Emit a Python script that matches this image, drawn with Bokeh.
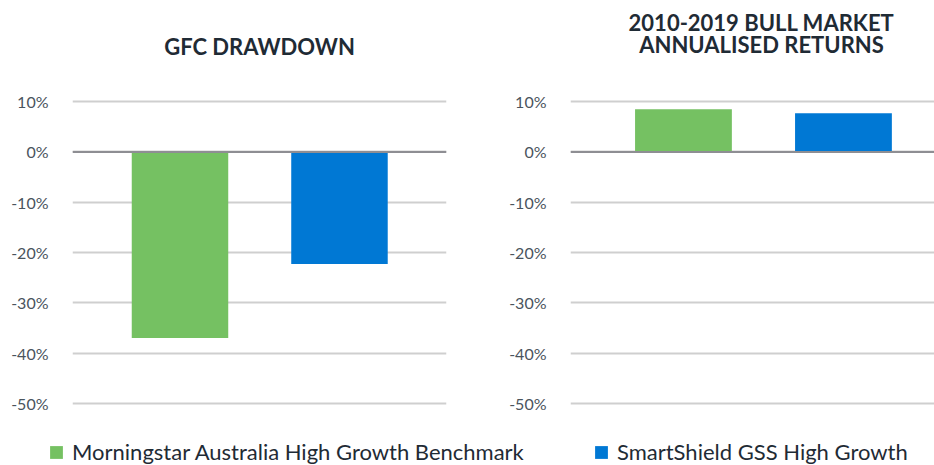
from bokeh.plotting import figure
from bokeh.models import (Range1d, FixedTicker, PrintfTickFormatter, Span,
                          Legend, LegendItem, Label, ColumnDataSource)
from bokeh.layouts import row, column
from bokeh.embed import file_html
from bokeh.resources import INLINE

# ---- data ----
panel_titles = [["GFC DRAWDOWN"], ["2010-2019 BULL MARKET", "ANNUALISED RETURNS"]]
series_names = ["Morningstar Australia High Growth Benchmark", "SmartShield GSS High Growth"]
benchmark = [-37.0, 8.5]      # % per panel
smartshield = [-22.3, 7.7]    # % per panel
y_ticks = [-50, -40, -30, -20, -10, 0, 10]

colors = ["#75C162", "#0078D4"]
FONT = "Lato"
TEXT_COL = "#1f2b35"
LABEL_COL = "#4a545d"

HEAD_H = 76
PH = 360


def strip(height):
    s = figure(width=934, height=height, output_backend="svg", toolbar_location=None,
               x_axis_location=None, y_axis_location=None, min_border=0,
               outline_line_color=None, x_range=Range1d(0, 1), y_range=Range1d(0, 1))
    s.xgrid.grid_line_color = None
    s.ygrid.grid_line_color = None
    return s


# ---- header with panel titles ----
head = strip(HEAD_H)
title_x = [259, 761]
title_baselines = [[30], [54, 32]]   # px from strip bottom, per line
for i, lines in enumerate(panel_titles):
    for j, line in enumerate(lines):
        head.add_layout(Label(x=title_x[i], y=title_baselines[i][j], x_units="screen",
                              y_units="screen", text=line, text_align="center",
                              text_baseline="alphabetic", text_font=FONT,
                              text_font_size="22px", text_font_style="bold",
                              text_color=TEXT_COL))


def make_panel(i, width, border_left, border_right, xr):
    p = figure(width=width, height=PH, output_backend="svg", toolbar_location=None,
               x_range=Range1d(*xr), y_range=Range1d(-55, 15),
               x_axis_location=None, min_border_left=border_left,
               min_border_right=border_right, min_border_top=0, min_border_bottom=8,
               outline_line_color=None, background_fill_color="white",
               border_fill_color="white")
    vals = [benchmark[i], smartshield[i]]
    for k in range(len(series_names)):
        src = ColumnDataSource(dict(x=[k], top=[vals[k]]))
        p.vbar(x="x", top="top", bottom=0, width=0.605, source=src,
               fill_color=colors[k], line_color=None)
    p.yaxis.ticker = FixedTicker(ticks=y_ticks)
    p.yaxis.formatter = PrintfTickFormatter(format="%d%%")
    p.yaxis.axis_line_color = None
    p.yaxis.major_tick_line_color = None
    p.yaxis.minor_tick_line_color = None
    p.yaxis.major_tick_out = 0
    p.yaxis.major_tick_in = 0
    p.yaxis.major_label_text_font = FONT
    p.yaxis.major_label_text_font_size = "16px"
    p.yaxis.major_label_text_color = LABEL_COL
    p.yaxis.major_label_standoff = 24
    p.xgrid.grid_line_color = None
    p.ygrid.ticker = FixedTicker(ticks=y_ticks)
    p.ygrid.grid_line_color = "#cfcfcf"
    p.ygrid.grid_line_width = 2
    p.add_layout(Span(location=0, dimension="width", line_color="#8e8e93", line_width=2))
    return p


p1 = make_panel(0, 467, 72, 21, (-0.674, 1.671))
p2 = make_panel(1, 467, 103, 0, (-0.706, 1.569))

# ---- legend strip (proxy renderers are hidden; legend shows their swatches) ----
lf = strip(29)
leg_x = [48, 593]
for k in range(len(series_names)):
    src = ColumnDataSource(dict(x=[k], top=[benchmark[k]]))
    r = lf.vbar(x="x", top="top", width=0.5, source=src,
                fill_color=colors[k], line_color=None, visible=False)
    leg = Legend(items=[LegendItem(label=series_names[k], renderers=[r])],
                 location=(leg_x[k], 0), orientation="horizontal",
                 glyph_width=16, glyph_height=16, label_standoff=8,
                 label_text_font=FONT, label_text_font_size="22px",
                 label_text_color=TEXT_COL, label_height=16, padding=0, margin=0,
                 border_line_color=None, background_fill_alpha=0, spacing=0,
                 inactive_fill_alpha=0)
    lf.add_layout(leg, "center")

layout = column(head, row(p1, p2), lf)
open("out.html", "w").write(file_html(layout, INLINE))
